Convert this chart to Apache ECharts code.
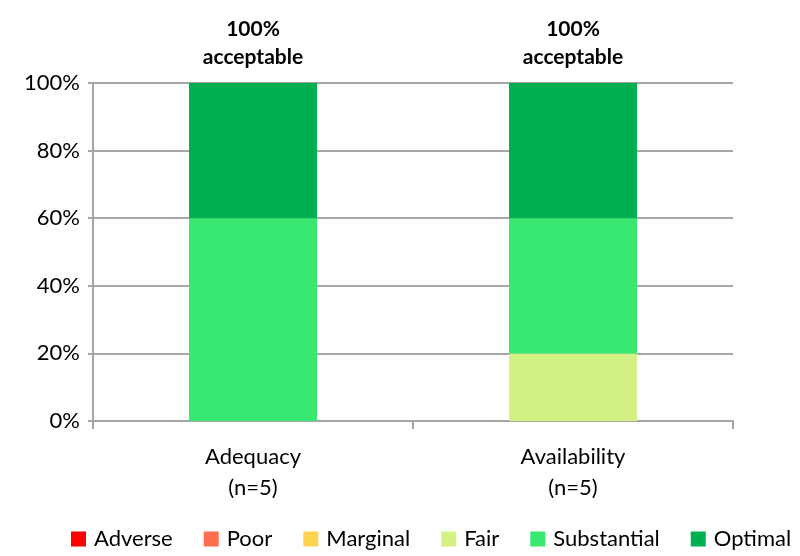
<!DOCTYPE html>
<html>
<head>
<meta charset="utf-8">
<script src="https://cdn.jsdelivr.net/npm/echarts@6/dist/echarts.min.js"></script>
<style>
  html, body { margin: 0; padding: 0; background: #fff; }
  #chart { width: 800px; height: 556px; }
</style>
</head>
<body>
<div id="chart"></div>
<script>
// categories and values (percent of reviews)
var categories = ['Adequacy\n(n=5)', 'Availability\n(n=5)']
var ratingNames = ['Adverse', 'Poor', 'Marginal', 'Fair', 'Substantial', 'Optimal']
var ratingColors = ['#FF0000', '#FF6F4F', '#FFD34F', '#D4F283', '#38E870', '#00B050']
var adverse = [0, 0]
var poor = [0, 0]
var marginal = [0, 0]
var fair = [0, 20]
var substantial = [60, 40]
var optimal = [40, 40]
var topLabels = ['100%\nacceptable', '100%\nacceptable']
var yTicks = [0, 20, 40, 60, 80, 100]

var values = [adverse, poor, marginal, fair, substantial, optimal]
var font = 'Lato, "Open Sans", sans-serif'

var chart = echarts.init(document.getElementById('chart'))

var series = ratingNames.map(function (name, i) {
  var s = {
    name: name,
    type: 'bar',
    stack: 'total',
    barWidth: '40%',
    data: values[i],
    itemStyle: { color: ratingColors[i] },
    emphasis: { disabled: true }
  }
  if (i === ratingNames.length - 1) {
    s.label = {
      show: true,
      position: 'top',
      distance: 12,
      formatter: function (p) { return topLabels[p.dataIndex] },
      color: '#000',
      fontFamily: font,
      fontWeight: 'bold',
      fontSize: 21,
      lineHeight: 28
    }
  }
  return s
})

chart.setOption({
  animation: false,
  grid: { left: 93, right: 67, top: 83, bottom: 135 },
  legend: {
    bottom: 1,
    left: 66,
    itemWidth: 15,
    itemHeight: 15,
    itemGap: 31,
    icon: 'rect',
    textStyle: { fontFamily: font, fontSize: 22, color: '#000', padding: [0, 0, 0, 3] },
    data: ratingNames
  },
  xAxis: {
    type: 'category',
    data: categories,
    axisLine: { lineStyle: { color: '#A6A6A6', width: 2 } },
    axisTick: { show: true, length: 8, lineStyle: { color: '#A6A6A6', width: 2 } },
    axisLabel: { color: '#000', fontFamily: font, fontSize: 22, lineHeight: 31, margin: 20 }
  },
  yAxis: {
    type: 'value',
    min: 0,
    max: 100,
    interval: 20,
    axisLine: { show: true, lineStyle: { color: '#A6A6A6', width: 2 } },
    axisTick: { show: true, length: 5, lineStyle: { color: '#A6A6A6', width: 2 } },
    splitLine: { lineStyle: { color: '#A6A6A6', width: 2 } },
    axisLabel: {
      color: '#000',
      fontFamily: font,
      fontSize: 22,
      margin: 13,
      formatter: function (v) { return yTicks.indexOf(v) >= 0 ? v + '%' : '' }
    }
  },
  series: series
})
</script>
</body>
</html>
